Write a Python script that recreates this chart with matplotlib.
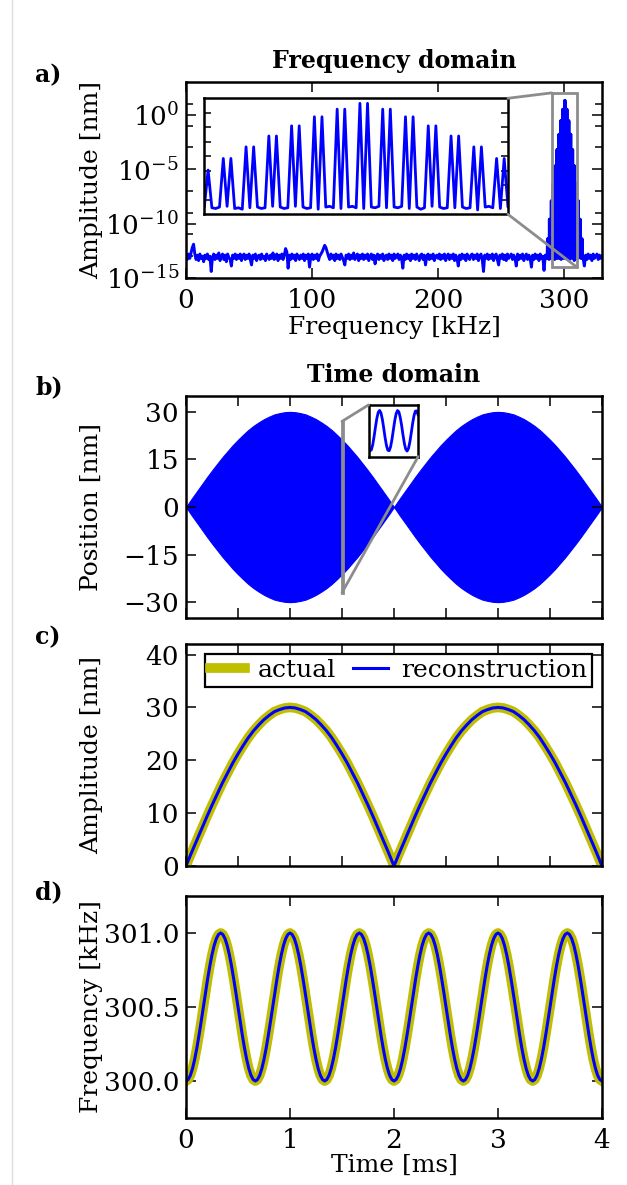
import numpy as np
import matplotlib
matplotlib.use('Agg')
import matplotlib.pyplot as plt
from matplotlib.patches import Rectangle, ConnectionPatch
from matplotlib.lines import Line2D
from matplotlib.ticker import FixedLocator, NullFormatter

plt.rcParams.update({
    'font.family': 'DejaVu Serif',
    'mathtext.fontset': 'dejavuserif',
    'font.size': 18,
    'xtick.labelsize': 19, 'ytick.labelsize': 19,
    'axes.linewidth': 1.8,
    'xtick.direction': 'in', 'ytick.direction': 'in',
    'xtick.top': True, 'ytick.right': True,
    'xtick.major.size': 7, 'ytick.major.size': 7,
    'xtick.minor.size': 5, 'ytick.minor.size': 5,
    'xtick.major.width': 1.1, 'ytick.major.width': 1.1,
    'ytick.minor.width': 1.1,
    'xtick.major.pad': 7, 'ytick.major.pad': 5,
})

# ---- a) spectrum, log10 of amplitude in nm ----
# noise floor every 1 kHz, 0..286 kHz
noise_lo_log = [
    -13.0, -13.3, -12.8, -13.2, -12.7, -12.2, -11.9, -12.8, -13.3, -12.9, -13.4, -12.8, -13.2, -13.0, -13.5, -12.9, -13.2, -12.8, -13.3, -13.0,
    -14.4, -13.1, -12.8, -13.3, -12.9, -13.2, -12.7, -13.4, -13.0, -12.8, -13.3, -12.9, -13.5, -12.8, -13.1, -13.3, -13.9, -12.9, -13.2, -12.8,
    -13.3, -12.9, -13.2, -12.8, -13.4, -13.0, -12.8, -13.3, -12.9, -13.2, -12.8, -13.3, -13.8, -12.9, -13.2, -12.8, -13.4, -13.0, -12.9, -13.3,
    -12.8, -13.2, -13.0, -13.4, -12.8, -13.1, -13.3, -12.9, -13.2, -12.7, -13.3, -13.0, -12.8, -13.4, -12.9, -13.2, -12.8, -13.3, -12.9, -12.3,
    -12.6, -14.1, -12.9, -13.3, -12.8, -13.2, -12.9, -13.4, -12.8, -13.1, -13.3, -12.9, -13.2, -12.8, -13.4, -12.9, -13.2, -12.8, -14.0, -13.0,
    -12.8, -13.3, -12.9, -13.2, -12.8, -13.4, -13.0, -12.8, -12.6, -12.3, -12.0, -12.2, -12.6, -13.0, -13.3, -12.8, -13.2, -12.9, -13.4, -12.8,
    -13.2, -12.9, -13.3, -12.8, -13.1, -13.4, -13.8, -12.9, -13.2, -12.8, -13.3, -12.9, -13.2, -12.7, -13.3, -13.0, -12.8, -13.4, -12.9, -13.2,
    -12.8, -13.3, -12.9, -13.2, -12.8, -13.4, -13.0, -12.8, -13.3, -12.9, -13.7, -13.0, -12.8, -13.3, -12.9, -13.2, -12.8, -13.4, -13.0, -12.9,
    -13.3, -12.8, -13.2, -12.9, -13.4, -12.8, -13.2, -13.0, -12.8, -13.3, -12.9, -13.2, -14.1, -12.9, -13.3, -12.8, -13.2, -12.9, -13.4, -12.8,
    -13.2, -12.9, -13.3, -12.8, -13.1, -13.4, -12.9, -12.8, -13.3, -12.9, -13.8, -13.0, -12.8, -13.3, -12.9, -13.2, -12.8, -13.4, -13.0, -12.9,
    -13.2, -12.8, -13.3, -12.9, -13.2, -12.8, -13.4, -13.0, -12.8, -13.3, -12.9, -13.2, -12.8, -13.4, -12.9, -13.2, -13.9, -12.9, -13.3, -12.8,
    -13.2, -12.9, -13.4, -12.8, -13.1, -13.3, -12.9, -12.8, -13.3, -12.9, -13.2, -12.8, -13.4, -13.0, -12.8, -13.3, -14.4, -12.9, -13.2, -12.8,
    -13.3, -12.9, -13.2, -12.8, -13.4, -13.0, -12.8, -13.3, -13.8, -12.9, -13.2, -12.8, -13.3, -12.9, -13.4, -12.8, -13.2, -13.0, -12.8, -13.3,
    -12.9, -13.2, -13.9, -12.8, -13.3, -12.9, -13.2, -12.8, -13.4, -13.0, -12.8, -13.3, -12.9, -13.2, -14.0, -12.9, -13.3, -12.8, -13.2, -12.9,
    -13.4, -12.8, -13.2, -13.0, -14.3, -12.9, -13.2,
]
# noise floor every 1 kHz, 315..330 kHz
noise_hi_log = [-13.2, -13.9, -12.9, -13.3, -12.8, -13.2, -12.9, -13.4,
                -12.8, -13.2, -13.0, -12.8, -13.3, -12.9, -13.2, -13.0]

# floor in the carrier region, 0.25 kHz bins from 286.5 kHz
region_floor_log = [
    -13.0, -13.1, -13.2, -13.0, -12.9, -13.1, -13.3, -13.0, -13.1, -12.9,
    -13.2, -13.0, -13.1, -13.4, -13.0, -12.9, -13.1, -13.2, -13.0, -13.1,
    -12.9, -13.0, -13.2, -13.1, -13.3, -13.0, -13.1, -12.9, -13.0, -13.2,
    -13.1, -13.0, -12.9, -13.1, -13.0, -13.2, -13.1, -13.0, -12.9, -13.1,
    -13.0, -13.2, -13.1, -13.0, -13.3, -13.1, -13.0, -12.9, -13.1, -13.0,
    -13.2, -13.1, -13.0, -12.9, -13.1, -13.0, -13.2, -13.1, -13.0, -13.1,
    -12.9, -13.0, -13.1, -13.2, -13.0, -13.1, -12.9, -13.0, -13.2, -13.1,
    -13.0, -13.3, -13.1, -13.0, -12.9, -13.1, -13.0, -13.2, -13.1, -13.0,
    -13.1, -12.9, -13.0, -13.2, -13.1, -13.0, -13.4, -13.1, -13.0, -12.9,
    -13.1, -13.0, -13.2, -13.1, -13.0, -12.9, -13.1, -13.0, -13.2, -13.1,
    -13.0, -13.1, -12.9, -13.2, -13.0, -13.1, -13.0, -13.2, -13.1, -13.0,
    -13.1, -13.0, -13.2,
]
# sideband pairs (center kHz, log10 amplitude); each is split by +-0.25 kHz
sideband_center_khz = [287.0, 288.5, 290.0, 291.5, 293.0, 294.5, 296.0, 297.5, 299.0, 300.5,
                       302.0, 303.5, 305.0, 306.5, 308.0, 309.5, 311.0, 312.5, 314.0]
sideband_log_amp = [-11.4, -9.6, -7.9, -6.3, -4.7, -3.2, -1.8, -0.55, 0.5, 1.3,
                    0.5, -0.55, -1.8, -3.2, -4.7, -6.3, -7.9, -9.6, -11.4]
am_split_khz = 0.25

# ---- b) position inset: 0.25 us samples starting at t = 1.5 ms ----
inset_pos_nm = [
    -17.5, -21.0, -19.9, -14.5, -5.8, 4.1, 13.1, 19.2, 21.2, 18.5,
    11.8, 2.5, -7.4, -15.6, -20.4, -20.8, -16.6, -8.8, 1.0, 10.5,
    17.8, 21.1, 19.7, 13.8, 5.5, -4.4, -13.3, -19.4, -21.2, -18.4,
    -11.7, -2.3, 7.6, 15.7, 20.5, 20.7, 16.5,
]

# ---- c) amplitude envelope, every 0.05 ms ----
actual_amp_nm = [
    0.0, 2.4, 4.7, 7.0, 9.3, 11.5, 13.6, 15.7, 17.6, 19.5, 21.2, 22.8, 24.3, 25.6, 26.7,
    27.7, 28.5, 29.2, 29.6, 29.9, 30.0,
    29.9, 29.6, 29.2, 28.5, 27.7, 26.7, 25.6, 24.3, 22.8, 21.2, 19.5, 17.6, 15.7, 13.6,
    11.5, 9.3, 7.0, 4.7, 2.4, 0.0,
    2.4, 4.7, 7.0, 9.3, 11.5, 13.6, 15.7, 17.6, 19.5, 21.2, 22.8, 24.3, 25.6, 26.7,
    27.7, 28.5, 29.2, 29.6, 29.9, 30.0,
    29.9, 29.6, 29.2, 28.5, 27.7, 26.7, 25.6, 24.3, 22.8, 21.2, 19.5, 17.6, 15.7, 13.6,
    11.5, 9.3, 7.0, 4.7, 2.4, 0.0,
]
recon_amp_nm = list(actual_amp_nm)

# ---- d) instantaneous frequency: one 2/3 ms cycle read at 32 points, 6 cycles shown ----
freq_cycle_khz = [
    300.000, 300.010, 300.038, 300.084, 300.146, 300.222, 300.309, 300.402,
    300.500, 300.598, 300.691, 300.778, 300.854, 300.916, 300.962, 300.990,
    301.000, 300.990, 300.962, 300.916, 300.854, 300.778, 300.691, 300.598,
    300.500, 300.402, 300.309, 300.222, 300.146, 300.084, 300.038, 300.010,
]
n_cycles = 6
actual_freq_khz = freq_cycle_khz * n_cycles + [300.000]
recon_freq_khz = list(actual_freq_khz)

# assemble spectrum
region_freq = 286.5 + 0.25 * np.arange(len(region_floor_log))
region_log = np.array(region_floor_log, dtype=float)
for c, a in zip(sideband_center_khz, sideband_log_amp):
    for f in (c - am_split_khz, c + am_split_khz):
        i = int(round((f - 286.5) / 0.25))
        if 0 <= i < len(region_log):
            region_log[i] = a
spec_freq = np.concatenate([np.arange(len(noise_lo_log), dtype=float), region_freq,
                            315.0 + np.arange(len(noise_hi_log))])
spec_amp = 10.0 ** np.concatenate([noise_lo_log, region_log, noise_hi_log])

t_amp = np.linspace(0, 4, len(actual_amp_nm))
t_freq = np.linspace(0, 4, len(actual_freq_khz))
t_inset = 1.5 + 0.00025 * np.arange(len(inset_pos_nm))

fig = plt.figure(figsize=(6.27, 11.85), dpi=100)
fig.add_artist(Line2D([0.019, 0.019], [0, 1], color='#dddddd', lw=1))

L, W = 186 / 627, 416 / 627
ax_a = fig.add_axes([L, 1 - 278 / 1185, W, 196 / 1185])
ax_b = fig.add_axes([L, 1 - 618 / 1185, W, 222 / 1185])
ax_c = fig.add_axes([L, 1 - 866 / 1185, W, 222 / 1185])
ax_d = fig.add_axes([L, 1 - 1118 / 1185, W, 222 / 1185])

grey = '0.55'
olive = (0.75, 0.75, 0)

# a) frequency domain
ax_a.plot(spec_freq, spec_amp, color='b', lw=2.1)
ax_a.set_yscale('log')
ax_a.set_xlim(0, 330)
ax_a.set_ylim(1e-15, 1e3)
ax_a.set_xticks([0, 100, 200, 300])
ax_a.yaxis.set_major_locator(FixedLocator([1e0, 1e-5, 1e-10, 1e-15]))
ax_a.set_yticklabels([r'$10^{0}$', r'$10^{-5}$', r'$10^{-10}$', r'$10^{-15}$'])
ax_a.yaxis.set_minor_locator(FixedLocator([10.0 ** k for k in (1, -1, -3, -7, -9, -11, -13)]))
ax_a.yaxis.set_minor_formatter(NullFormatter())
ax_a.set_xlabel('Frequency [kHz]', labelpad=2)
ax_a.set_ylabel('Amplitude [nm]')
ax_a.set_title('Frequency domain', fontweight='bold', fontsize=17, pad=10)
ax_a.add_patch(Rectangle((290, 1e-14), 20, 1e2 - 1e-14, fill=False, ec=grey, lw=2, zorder=5))

ins_a = ax_a.inset_axes([0.044, 0.325, 0.730, 0.592])
ins_a.plot(spec_freq, spec_amp, color='b', lw=2)
ins_a.set_yscale('log')
ins_a.set_xlim(290, 310)
ins_a.set_ylim(1e-14, 1e2)
ins_a.set_xticks([])
ins_a.yaxis.set_major_locator(FixedLocator([10.0 ** k for k in range(-12, 1, 2)]))
ins_a.yaxis.set_minor_locator(FixedLocator([]))
ins_a.tick_params(axis='y', labelleft=False, labelright=False, length=5)
for s in ins_a.spines.values():
    s.set_linewidth(1.8)
fig.add_artist(ConnectionPatch(xyA=(1, 1), coordsA=ins_a.transAxes, xyB=(290, 1e2),
                               coordsB=ax_a.transData, color=grey, lw=2))
fig.add_artist(ConnectionPatch(xyA=(1, 0), coordsA=ins_a.transAxes, xyB=(310, 1e-14),
                               coordsB=ax_a.transData, color=grey, lw=2))

# b) time domain
amp = np.array(actual_amp_nm)
ax_b.fill_between(t_amp, -amp, amp, color='b', lw=0.8, edgecolor='b')
ax_b.set_xlim(0, 4)
ax_b.set_ylim(-35, 35)
ax_b.set_yticks([-30, -15, 0, 15, 30])
ax_b.set_xticks(np.arange(0, 4.01, 0.5))
ax_b.tick_params(labelbottom=False)
ax_b.set_ylabel('Position [nm]')
ax_b.set_title('Time domain', fontweight='bold', fontsize=17, pad=10)
ax_b.add_patch(Rectangle((1.5, -27), 0.009, 54, fill=False, ec=grey, lw=2, zorder=5))

ins_b = ax_b.inset_axes([0.439, 0.727, 0.119, 0.233])
ins_b.plot(t_inset, inset_pos_nm, color='b', lw=2)
ins_b.set_xlim(1.5, 1.509)
ins_b.set_ylim(-27, 27)
ins_b.set_xticks([])
ins_b.set_yticks([])
for s in ins_b.spines.values():
    s.set_linewidth(1.8)
fig.add_artist(ConnectionPatch(xyA=(0, 1), coordsA=ins_b.transAxes, xyB=(1.5, 27),
                               coordsB=ax_b.transData, color=grey, lw=2))
fig.add_artist(ConnectionPatch(xyA=(1, 0), coordsA=ins_b.transAxes, xyB=(1.5, -27),
                               coordsB=ax_b.transData, color=grey, lw=2))

# c) amplitude
ax_c.plot(t_amp, actual_amp_nm, color=olive, lw=7, label='actual')
ax_c.plot(t_amp, recon_amp_nm, color='b', lw=2.2, label='reconstruction')
ax_c.set_xlim(0, 4)
ax_c.set_ylim(0, 42)
ax_c.set_yticks([0, 10, 20, 30, 40])
ax_c.set_xticks(np.arange(0, 4.01, 0.5))
ax_c.tick_params(labelbottom=False)
ax_c.set_ylabel('Amplitude [nm]')
leg = ax_c.legend(loc='upper right', ncol=2, handlelength=1.4, columnspacing=0.7,
                  handletextpad=0.5, borderpad=0.2, borderaxespad=0.4,
                  fancybox=False, framealpha=1, edgecolor='k', fontsize=18)
leg.get_frame().set_linewidth(1.6)

# d) frequency
ax_d.plot(t_freq, actual_freq_khz, color=olive, lw=7)
ax_d.plot(t_freq, recon_freq_khz, color='b', lw=2.2)
ax_d.set_xlim(0, 4)
ax_d.set_ylim(299.75, 301.25)
ax_d.set_yticks([300.0, 300.5, 301.0])
ax_d.set_yticklabels(['300.0', '300.5', '301.0'])
ax_d.set_xticks([0, 1, 2, 3, 4])
ax_d.set_xlabel('Time [ms]', labelpad=1)
ax_d.set_ylabel('Frequency [kHz]')

for ax in (ax_a, ax_b, ax_c, ax_d):
    ax.yaxis.set_label_coords(-0.2, 0.5)

for lab, yp in (('a)', 75), ('b)', 387), ('c)', 637), ('d)', 892)):
    fig.text(0.056, 1 - yp / 1185, lab, fontweight='bold', fontsize=17, ha='left', va='center')

fig.savefig('out.png', dpi=100, facecolor='white')
